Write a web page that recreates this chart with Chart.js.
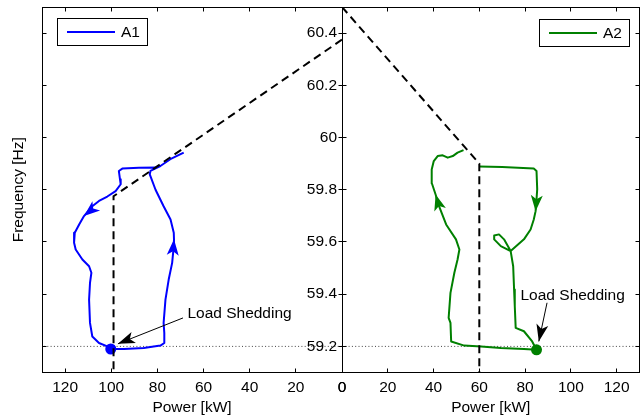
<!DOCTYPE html>
<html>
<head>
<meta charset="utf-8">
<script src="https://cdn.jsdelivr.net/npm/chart.js@4.4.1/dist/chart.umd.min.js"></script>
<style>
  html, body { margin: 0; padding: 0; background: #fff; overflow: hidden; }
  #wrap { position: relative; width: 640px; height: 418px; overflow: hidden; }
  .panel { position: absolute; top: 0; }
  #left { left: 0; }
  #right { left: 300px; }
</style>
</head>
<body>
<div id="wrap">
  <div class="panel" id="left"><canvas id="chartA1" width="348" height="418"></canvas></div>
  <div class="panel" id="right"><canvas id="chartA2" width="345" height="418"></canvas></div>
</div>
<script>
// Unit A1: power [kW] / frequency [Hz] trajectory
const a1Power = [68.6, 74.4, 78.7, 80.1, 88.0, 95.2, 96.7, 96.2, 95.9, 98.1, 101.7, 105.3, 108.2, 111.8, 113.9, 115.8,
	116.1, 115.4, 112.5, 109.6, 108.6, 109.2, 109.6, 109.2, 108.2, 105.3, 101.7, 100.2, 94.5, 85.9, 78.7, 77.0,
	77.0, 77.3, 76.5, 75.1, 73.6, 72.9, 72.8, 72.9, 74.3, 77.3, 80.8, 83.3, 83.0, 80.1];
const a1Freq = [59.942, 59.917, 59.891, 59.885, 59.884, 59.881, 59.872, 59.84, 59.821, 59.795, 59.774, 59.757, 59.737, 59.699, 59.667, 59.635,
	59.597, 59.571, 59.533, 59.507, 59.482, 59.443, 59.379, 59.29, 59.238, 59.213, 59.2, 59.19, 59.19, 59.194, 59.203, 59.213,
	59.251, 59.29, 59.379, 59.456, 59.52, 59.584, 59.61, 59.635, 59.686, 59.737, 59.80, 59.859, 59.872, 59.885];

// Unit A2: power [kW] / frequency [Hz] trajectory
const a2Power = [59.9, 70.0, 83.8, 85.0, 85.3, 85.0, 84.6, 83.8, 82.4, 79.5, 73.7, 69.4, 66.5, 66.5, 68.6, 70.8,
	73.7, 74.8, 75.2, 75.5, 75.9, 79.5, 83.1, 85.0, 79.5, 69.4, 60.7, 53.4, 47.7, 47.4, 46.6, 47.4,
	49.1, 50.5, 51.3, 49.8, 45.5, 42.4, 40.9, 39.3, 39.2, 40.1, 41.8, 44.0, 46.2, 48.4, 50.5, 53.1];
const a2Freq = [59.889, 59.887, 59.881, 59.872, 59.802, 59.763, 59.718, 59.686, 59.648, 59.61, 59.565, 59.584, 59.61, 59.625, 59.629, 59.61,
	59.565, 59.507, 59.418, 59.354, 59.271, 59.258, 59.219, 59.187, 59.19, 59.194, 59.2, 59.203, 59.219, 59.29, 59.309, 59.405,
	59.482, 59.533, 59.571, 59.61, 59.667, 59.737, 59.782, 59.824, 59.878, 59.91, 59.929, 59.932, 59.923, 59.929, 59.942, 59.952];

// droop characteristics (dashed)
const a1DroopPower = [0, 99, 99];
const a1DroopFreq = [60.375, 59.775, 59.1];
const a2DroopPower = [0, 60, 60];
const a2DroopFreq = [60.5, 59.9, 59.1];

// load shedding operating points
const a1Shed = [100.2, 59.19];
const a2Shed = [85.0, 59.187];

// load shedding threshold (dotted)
const limitPower = [0, 130];
const limitFreq = [59.2, 59.2];

// axis ticks
const powerTicks = [0, 20, 40, 60, 80, 100, 120];
const freqTicks = [59.2, 59.4, 59.6, 59.8, 60, 60.2, 60.4];

const FONT = "'Liberation Sans', Arial, Helvetica, sans-serif";
const FONT_SIZE = 15.5;

function points(xs, ys) {
	return xs.map((x, i) => ({ x, y: ys[i] }));
}

function arrowHead(ctx, x0, y0, x1, y1, len, half, color) {
	const ang = Math.atan2(y1 - y0, x1 - x0);
	ctx.save();
	ctx.translate(x1, y1);
	ctx.rotate(ang);
	ctx.beginPath();
	ctx.moveTo(0, 0);
	ctx.lineTo(-len, -half);
	ctx.lineTo(-len * 0.75, 0);
	ctx.lineTo(-len, half);
	ctx.closePath();
	ctx.fillStyle = color;
	ctx.fill();
	ctx.restore();
}

// box, inward ticks, legend, direction arrows and notes
const framePlugin = {
	id: "frame",
	afterDatasetsDraw(chart, args, opts) {
		const { ctx, chartArea: a, scales: { x, y } } = chart;
		ctx.save();

		const left = Math.floor(a.left) + 0.5;
		const right = Math.floor(a.right) + 0.5;
		const top = Math.floor(a.top) + 0.5;
		const bottom = Math.floor(a.bottom) + 0.5;

		ctx.strokeStyle = "#000";
		ctx.lineWidth = 1;
		ctx.beginPath();
		x.ticks.forEach((t) => {
			const px = Math.floor(x.getPixelForValue(t.value)) + 0.5;
			ctx.moveTo(px, top); ctx.lineTo(px, top + 4);
			ctx.moveTo(px, bottom); ctx.lineTo(px, bottom - 4);
		});
		y.ticks.forEach((t) => {
			const py = Math.floor(y.getPixelForValue(t.value)) + 0.5;
			ctx.moveTo(left, py); ctx.lineTo(left + 4, py);
			ctx.moveTo(right, py); ctx.lineTo(right - 4, py);
		});
		ctx.stroke();
		ctx.strokeRect(left, top, right - left, bottom - top);

		const curveIndex = chart.data.datasets.findIndex((d) => d.label);
		const curve = chart.data.datasets[curveIndex];
		const meta = chart.getDatasetMeta(curveIndex).data;

		(opts.arrows || []).forEach(([at, from]) => {
			arrowHead(ctx, meta[from].x, meta[from].y, meta[at].x, meta[at].y, 16, 6, curve.borderColor);
		});

		ctx.font = `${FONT_SIZE}px ${FONT}`;
		ctx.textBaseline = "middle";
		ctx.textAlign = "left";

		(opts.notes || []).forEach((n) => {
			const tx = x.getPixelForValue(n.tail[0]);
			const ty = y.getPixelForValue(n.tail[1]);
			const hx = x.getPixelForValue(n.tip[0]);
			const hy = y.getPixelForValue(n.tip[1]);
			ctx.strokeStyle = "#000";
			ctx.lineWidth = 1;
			ctx.beginPath();
			ctx.moveTo(tx, ty);
			ctx.lineTo(hx, hy);
			ctx.stroke();
			arrowHead(ctx, tx, ty, hx, hy, 17, 6, "#000");
			ctx.fillStyle = "#000";
			ctx.fillText(n.text, x.getPixelForValue(n.at[0]), y.getPixelForValue(n.at[1]));
		});

		const lg = opts.legend;
		if (lg) {
			const tw = ctx.measureText(curve.label).width;
			const w = Math.round(10 + 48 + 6 + tw + 7);
			const h = 27;
			const bx = Math.round(lg.side === "left" ? a.left + lg.dx : a.right - lg.dx - w);
			const by = Math.round(a.top + lg.dy);
			ctx.fillStyle = "#fff";
			ctx.fillRect(bx, by, w, h);
			ctx.strokeStyle = "#000";
			ctx.lineWidth = 1;
			ctx.strokeRect(bx + 0.5, by + 0.5, w, h);
			ctx.strokeStyle = curve.borderColor;
			ctx.lineWidth = 2;
			ctx.beginPath();
			ctx.moveTo(bx + 10, by + h / 2 + 0.5);
			ctx.lineTo(bx + 58, by + h / 2 + 0.5);
			ctx.stroke();
			ctx.fillStyle = "#000";
			ctx.fillText(curve.label, bx + 64, by + h / 2 + 1);
		}

		ctx.restore();
	}
};

function buildPanel(canvas, p) {
	const font = { family: FONT, size: FONT_SIZE };
	return new Chart(canvas, {
		type: "scatter",
		data: {
			datasets: [
				{
					label: "",
					data: points(p.droopPower, p.droopFreq),
					showLine: true,
					borderColor: "#000",
					borderWidth: 2,
					borderDash: [8, 5],
					pointRadius: 0
				},
				{
					label: p.name,
					data: points(p.power, p.freq),
					showLine: true,
					borderColor: p.color,
					borderWidth: 2,
					pointRadius: 0,
					borderJoinStyle: "round"
				},
				{
					label: "",
					data: [{ x: p.shed[0], y: p.shed[1] }],
					pointRadius: 5.5,
					pointBackgroundColor: p.color,
					pointBorderColor: p.color,
					pointBorderWidth: 0
				},
				{
					label: "",
					data: points(limitPower, limitFreq),
					showLine: true,
					borderColor: "#444",
					borderWidth: 1,
					borderDash: [1, 2.3],
					pointRadius: 0
				}
			]
		},
		options: {
			responsive: false,
			animation: false,
			events: [],
			layout: { padding: { top: 7, right: p.padRight, left: 0, bottom: 0 } },
			plugins: {
				legend: { display: false },
				tooltip: { enabled: false },
				frame: { legend: p.legend, arrows: p.arrows, notes: p.notes }
			},
			scales: {
				x: {
					type: "linear",
					min: 0,
					max: 130,
					reverse: p.reverse,
					grid: { display: false, drawTicks: false },
					border: { display: false },
					ticks: {
						autoSkip: false,
						maxRotation: 0,
						padding: 6,
						color: "#000",
						font
					},
					afterBuildTicks: (s) => {
						s.ticks = powerTicks.map((value) => ({ value }));
					},
					title: {
						display: true,
						text: "Power [kW]",
						color: "#000",
						font,
						padding: { top: 0, bottom: 1 }
					},
					afterFit: (s) => {
						s.height = 45.5;
						s.paddingLeft = 0;
						s.paddingRight = 0;
					}
				},
				y: {
					type: "linear",
					min: 59.1,
					max: 60.5,
					grid: { display: false, drawTicks: false },
					border: { display: false },
					ticks: {
						display: p.yLabels,
						padding: 5,
						color: "#000",
						font,
						callback: (v) => String(Number(v.toFixed(1)))
					},
					afterBuildTicks: (s) => {
						s.ticks = freqTicks.map((value) => ({ value }));
					},
					title: {
						display: p.yTitle,
						text: "Frequency [Hz]",
						color: "#000",
						font,
						padding: { top: 9, bottom: 0 }
					},
					afterFit: (s) => {
						s.width = 42;
						s.paddingTop = 0;
						s.paddingBottom = 0;
					}
				}
			}
		},
		plugins: [framePlugin]
	});
}

buildPanel(document.getElementById("chartA1"), {
	name: "A1",
	color: "#0000ff",
	power: a1Power,
	freq: a1Freq,
	droopPower: a1DroopPower,
	droopFreq: a1DroopFreq,
	shed: a1Shed,
	reverse: true,
	padRight: 6,
	yLabels: false,
	yTitle: true,
	legend: { side: "left", dx: 14.7, dy: 11.3 },
	arrows: [[13, 10], [38, 36]],
	notes: [{ text: "Load Shedding", at: [67, 59.327], tail: [68.9, 59.309], tip: [97.1, 59.21] }]
});

buildPanel(document.getElementById("chartA2"), {
	name: "A2",
	color: "#008000",
	power: a2Power,
	freq: a2Freq,
	droopPower: a2DroopPower,
	droopFreq: a2DroopFreq,
	shed: a2Shed,
	reverse: false,
	padRight: 4,
	yLabels: true,
	yTitle: false,
	legend: { side: "right", dx: 10.3, dy: 12 },
	arrows: [[6, 4], [38, 37]],
	notes: [{ text: "Load Shedding", at: [78.0, 59.395], tail: [89.6, 59.367], tip: [86.0, 59.219] }]
});
</script>
</body>
</html>
